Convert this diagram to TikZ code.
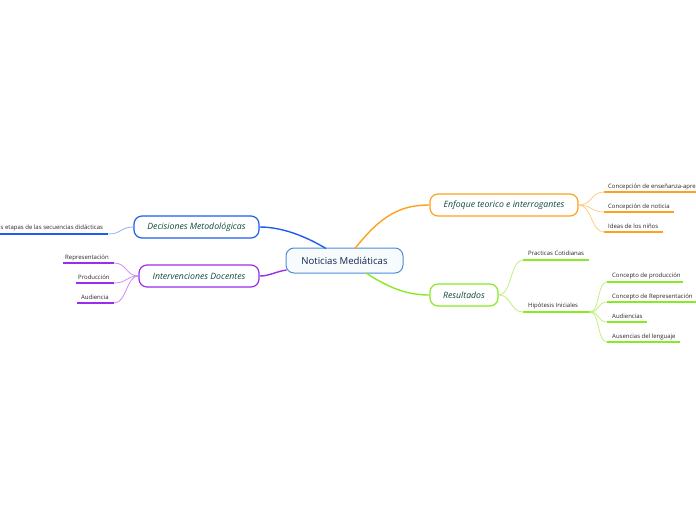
\documentclass[tikz,border=0pt]{standalone}
\usepackage{fontspec}
\setmainfont{Open Sans}
\begin{document}
\begin{tikzpicture}[x=1pt,y=-1pt,
  mainbox/.style={draw, line width=1.2pt, rounded corners=8pt, fill=white, minimum height=22pt, inner xsep=6pt, font=\fontsize{8.7}{9}\selectfont\itshape, text=txtgreen},
  leaf/.style={anchor=base west, inner sep=0pt, font=\fontsize{6}{7}\selectfont, text=black!85},
  uline/.style={line width=1.6pt},
  thin/.style={line width=0.8pt},
  thick/.style={line width=1.4pt}]
\definecolor{txtgreen}{HTML}{0E4A3C}
\definecolor{cblue}{HTML}{1F5CF0}
\definecolor{lblue}{HTML}{8FB0F5}
\definecolor{cpurple}{HTML}{9A2EEA}
\definecolor{lpurple}{HTML}{D08CF5}
\definecolor{corange}{HTML}{FFA020}
\definecolor{lorange}{HTML}{FFCD85}
\definecolor{cgreen}{HTML}{88EA22}
\definecolor{lgreen}{HTML}{C0F080}
\definecolor{cborder}{HTML}{4A8FD6}
\definecolor{navy}{HTML}{13234A}
\useasboundingbox (0,0) rectangle (696,520);

% central
\node[draw=cborder, line width=1pt, rounded corners=8pt, fill=cborder!4, minimum width=117pt, minimum height=25pt, font=\fontsize{9.6}{11}\selectfont, text=navy] (c) at (344.5,260.5) {Noticias Mediáticas};

% main boxes
\node[mainbox, draw=cblue, minimum width=125pt] (dm) at (196.5,227) {Decisiones Metodológicas};
\node[mainbox, draw=cpurple, minimum width=120pt] (id) at (199,276) {Intervenciones Docentes};
\node[mainbox, draw=corange, minimum width=148pt] (et) at (504,205) {Enfoque teorico e interrogantes};
\node[mainbox, draw=cgreen, minimum width=68pt] (re) at (464,295) {Resultados};

% central connectors
\coordinate (cb) at (326,248.5);
\coordinate (co) at (355,248.5);
\coordinate (cp) at (286.5,270);
\coordinate (cg) at (366,273);
\draw[thick, cblue] (cb) .. controls (305,236) and (282,227) .. (dm.east);
\draw[thick, corange] (co) .. controls (382,214) and (402,205) .. (et.west);
\draw[thick, cpurple] (cp) .. controls (274,272) and (270,276) .. (id.east);
\draw[thick, cgreen] (cg) .. controls (392,290) and (410,295) .. (re.west);

% Decisiones leaf
\node[leaf] (dm1) at (0.5,229) {s etapas de las secuencias didácticas};
\coordinate (dm1a) at (0,234); \coordinate (dm1b) at (108,234);
\draw[uline, cblue] (dm1a) -- (dm1b);
\draw[thin, lblue] (dm1b) .. controls (122,234) and (120,227) .. (dm.west);

% Intervenciones leaves
\node[leaf] (id1) at (65,259) {Representación};
\node[leaf] (id2) at (78,279) {Producción};
\node[leaf] (id3) at (81,299) {Audiencia};
\coordinate (id1a) at (63,263); \coordinate (id1b) at (114,263);
\coordinate (id2a) at (76,283); \coordinate (id2b) at (114,283);
\coordinate (id3a) at (77,303); \coordinate (id3b) at (114,303);
\draw[uline, cpurple] (id1a) -- (id1b);
\draw[uline, cpurple] (id2a) -- (id2b);
\draw[uline, cpurple] (id3a) -- (id3b);
\draw[thin, lpurple] (id.west) .. controls (126,276) and (127,263) .. (id1b);
\draw[thin, lpurple] (id.west) .. controls (126,276) and (127,283) .. (id2b);
\draw[thin, lpurple] (id.west) .. controls (126,276) and (127,303) .. (id3b);

% Enfoque leaves
\node[leaf] (et1) at (608,188) {Concepción de enseñanza-apre};
\node[leaf] (et2) at (608,208) {Concepción de noticia};
\node[leaf] (et3) at (608,228) {Ideas de los niños};
\coordinate (et1a) at (604,192); \coordinate (et1b) at (700,192);
\coordinate (et2a) at (604,212); \coordinate (et2b) at (674,212);
\coordinate (et3a) at (604,232); \coordinate (et3b) at (663,232);
\draw[uline, corange] (et1a) -- (et1b);
\draw[uline, corange] (et2a) -- (et2b);
\draw[uline, corange] (et3a) -- (et3b);
\draw[thin, lorange] (et.east) .. controls (592,205) and (591,192) .. (et1a);
\draw[thin, lorange] (et.east) .. controls (592,205) and (591,212) .. (et2a);
\draw[thin, lorange] (et.east) .. controls (592,205) and (591,232) .. (et3a);

% Resultados leaves
\node[leaf] (r1) at (528,255) {Practicas Cotidianas};
\node[leaf] (r2) at (528,307) {Hipótesis Iniciales};
\coordinate (r1a) at (523,260); \coordinate (r1b) at (589,260);
\coordinate (r2a) at (523,312); \coordinate (r2b) at (590,312);
\draw[uline, cgreen] (r1a) -- (r1b);
\draw[uline, cgreen] (r2a) -- (r2b);
\draw[thin, lgreen] (re.east) .. controls (512,295) and (510,260) .. (r1a);
\draw[thin, lgreen] (re.east) .. controls (512,295) and (510,312) .. (r2a);

\node[leaf] (h1) at (612,277) {Concepto de producción};
\node[leaf] (h2) at (612,298) {Concepto de Representación};
\node[leaf] (h3) at (612,318) {Audiencias};
\node[leaf] (h4) at (612,338) {Ausencias del lenguaje};
\coordinate (h1a) at (607,282); \coordinate (h1b) at (683,282);
\coordinate (h2a) at (607,302); \coordinate (h2b) at (696,302);
\coordinate (h3a) at (607,322); \coordinate (h3b) at (647,322);
\coordinate (h4a) at (607,342); \coordinate (h4b) at (680,342);
\draw[uline, cgreen] (h1a) -- (h1b);
\draw[uline, cgreen] (h2a) -- (h2b);
\draw[uline, cgreen] (h3a) -- (h3b);
\draw[uline, cgreen] (h4a) -- (h4b);
\draw[thin, lgreen] (r2b) .. controls (600,312) and (597,282) .. (h1a);
\draw[thin, lgreen] (r2b) .. controls (600,312) and (597,302) .. (h2a);
\draw[thin, lgreen] (r2b) .. controls (600,312) and (597,322) .. (h3a);
\draw[thin, lgreen] (r2b) .. controls (600,312) and (597,342) .. (h4a);
\end{tikzpicture}
\end{document}
